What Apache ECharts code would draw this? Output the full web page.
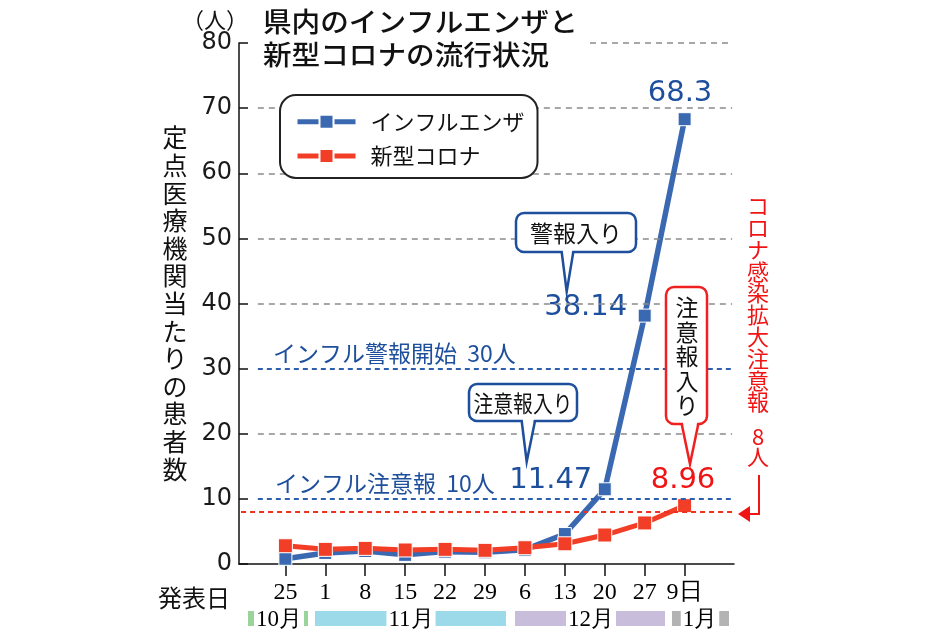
<!DOCTYPE html>
<html><head><meta charset="utf-8">
<script src="https://cdn.jsdelivr.net/npm/echarts@6/dist/echarts.min.js"></script>
<style>html,body{margin:0;padding:0;background:#fff}#c{width:934px;height:638px}</style>
</head><body><div id="c"></div>
<script>
// ---- data ----
const dateLabels = ['25','1','8','15','22','29','6','13','20','27','9日'];
const fluValues = [0.8, 1.7, 2.0, 1.4, 1.9, 1.8, 2.2, 4.6, 11.47, 38.14, 68.3];
const covidValues = [2.8, 2.25, 2.4, 2.15, 2.25, 2.1, 2.5, 3.1, 4.45, 6.3, 8.96];
const seriesNames = ['インフルエンザ', '新型コロナ'];
const gridLevels = [20, 40, 50, 60, 70, 80];
const fluThresholds = [10, 30];
const covidThreshold = 8;
const monthNames = ['10月', '11月', '12月', '1月'];
const yAxisName = '定点医療機関当たりの患者数';

// ---- styling ----
const JP = "'Noto Sans CJK JP', sans-serif";
const BLUE = '#3a69b1', RED = '#f23e26', BLUE_TXT = '#1e4f9c', RED_TXT = '#f01414';
const fluLabelOffsets = {8: [-54, -9], 9: [-59, -8.6], 10: [-4.6, -26]};
const covidLabelOffsets = {10: [-1.6, -25.6]};

function buildData(values, offsets, color) {
  return values.map((v, i) => {
    const item = {value: [i, v]};
    if (offsets[i]) {
      item.label = {show: true, position: 'inside', offset: offsets[i], formatter: String(v),
        fontFamily: 'DejaVu Sans', fontSize: 29, color: color, backgroundColor: '#fff', padding: [0, 1]};
    }
    return item;
  });
}

const xLeft = -0.69, xRight = 11.19;
const markData = [];
gridLevels.forEach(l => markData.push([{coord: [l === 80 ? 7.63 : xLeft, l], lineStyle: {color: '#8a8a8a', width: 1.5, type: [6, 5]}}, {coord: [xRight, l]}]));
fluThresholds.forEach(l => markData.push([{coord: [xLeft, l], lineStyle: {color: '#2d5fae', width: 2, type: [5, 4]}}, {coord: [xRight, l]}]));
markData.push([{coord: [-1.11, covidThreshold], lineStyle: {color: '#f0301e', width: 2, type: [5, 4]}}, {coord: [xRight, covidThreshold]}]);

function callout(x1, y1, x2, y2, tl, tr, tip, color, textEl) {
  return {type: 'group', children: [
    {type: 'rect', shape: {x: x1, y: y1, width: x2 - x1, height: y2 - y1, r: 8}, style: {fill: '#fff', stroke: color, lineWidth: 2.5}, z: 20},
    {type: 'polygon', shape: {points: [[tl + 1, y2 - 2.5], [tr - 1, y2 - 2.5], tip]}, style: {fill: '#fff'}, z: 21},
    {type: 'polyline', shape: {points: [[tl, y2], tip, [tr, y2]]}, style: {stroke: color, lineWidth: 2.5, fill: null}, z: 22},
    Object.assign({type: 'text', z: 23}, textEl)
  ]};
}

const monthBands = [
  {x1: 248, x2: 308, tx: 279, color: '#9ad49a'},
  {x1: 315, x2: 506, tx: 411, color: '#9cd9e9'},
  {x1: 515, x2: 665, tx: 591, color: '#c9bddc'},
  {x1: 672, x2: 729, tx: 700, color: '#b3b3b3'}
];
const graphics = [];
monthBands.forEach((b, i) => {
  graphics.push({type: 'rect', shape: {x: b.x1, y: 611, width: b.x2 - b.x1, height: 15}, style: {fill: b.color}, z: 5});
  graphics.push({type: 'text', x: b.tx, y: 620, z: 6, style: {text: monthNames[i], align: 'center', verticalAlign: 'middle',
    fontFamily: "'Liberation Serif', serif", fontSize: 23, fill: '#000', backgroundColor: '#fff', padding: [0, 2]}});
});
graphics.push(
  {type: 'text', x: 263, y: 5, scaleX: 1.06, z: 10, style: {text: '県内のインフルエンザと\n新型コロナの流行状況', align: 'left', verticalAlign: 'top',
    fontFamily: JP, fontSize: 27, fontWeight: 500, lineHeight: 33, fill: '#111'}},
  {type: 'text', x: 215, y: 20, z: 10, style: {text: '（人）', align: 'center', verticalAlign: 'middle', fontFamily: JP, fontSize: 22, fill: '#111'}},
  {type: 'text', x: 194, y: 598, z: 10, style: {text: '発表日', align: 'center', verticalAlign: 'middle', fontFamily: JP, fontSize: 24, fill: '#111'}},
  {type: 'text', x: 273, y: 353, z: 10, style: {text: 'インフル警報開始  30人', align: 'left', verticalAlign: 'middle', fontFamily: JP, fontSize: 23, fill: BLUE_TXT}},
  {type: 'text', x: 275, y: 483, z: 10, style: {text: 'インフル注意報  10人', align: 'left', verticalAlign: 'middle', fontFamily: JP, fontSize: 23, fill: BLUE_TXT}},
  callout(469, 384, 577, 421, 521.7, 535, [526.7, 461.7], BLUE_TXT,
    {x: 523, y: 403, scaleX: 0.86, style: {text: '注意報入り', align: 'center', verticalAlign: 'middle', fontFamily: JP, fontSize: 23, fill: '#111'}}),
  callout(516, 213, 636, 252, 561.7, 573.3, [566.7, 291.7], BLUE_TXT,
    {x: 576, y: 233, style: {text: '警報入り', align: 'center', verticalAlign: 'middle', fontFamily: JP, fontSize: 23, fill: '#111'}}),
  callout(666, 287, 707, 424, 681.7, 698.3, [690, 464], '#f02020',
    {x: 687, y: 356.5, style: {text: '注\n意\n報\n入\nり', align: 'center', verticalAlign: 'middle', fontFamily: JP, fontSize: 23, lineHeight: 24.4, fill: '#111'}}),
  {type: 'text', x: 758, y: 304, z: 10, style: {text: 'コ\nロ\nナ\n感\n染\n拡\n大\n注\n意\n報', align: 'center', verticalAlign: 'middle', fontFamily: JP, fontSize: 22, lineHeight: 21.8, fill: RED_TXT}},
  {type: 'text', x: 758, y: 447, z: 10, style: {text: '8\n人', align: 'center', verticalAlign: 'middle', fontFamily: JP, fontSize: 22, lineHeight: 20, fill: RED_TXT}},
  {type: 'polyline', z: 10, shape: {points: [[759, 475], [759, 514], [748, 514]]}, style: {stroke: RED_TXT, lineWidth: 2, fill: null}},
  {type: 'polygon', z: 10, shape: {points: [[738, 514], [750, 506], [750, 522]]}, style: {fill: RED_TXT}}
);

const chart = echarts.init(document.getElementById('c'), null, {renderer: 'canvas'});
chart.setOption({
  animation: false,
  backgroundColor: '#fff',
  grid: {left: 239, right: 200, top: 43, bottom: 74, containLabel: false},
  legend: {
    data: seriesNames, orient: 'vertical', left: 280, top: 95,
    itemWidth: 58, itemHeight: 17.5, itemGap: 10.3,
    padding: [14.7, 13, 10, 15],
    backgroundColor: '#fff', borderColor: '#222', borderWidth: 2, borderRadius: 16,
    textStyle: {fontFamily: JP, fontSize: 22, color: '#111', lineHeight: 24, padding: [0, 0, 0, 10]},
    lineStyle: {width: 5},
    itemStyle: {borderColor: '#fff', borderWidth: 2},
    selectedMode: false, z: 15
  },
  xAxis: {
    type: 'value', min: -1.162, max: 11.237,
    axisLine: {show: true, onZero: false, lineStyle: {color: '#111', width: 1.5}},
    axisTick: {show: true, length: 12, customValues: dateLabels.map((d, i) => i), lineStyle: {color: '#111', width: 1.5}},
    axisLabel: {customValues: dateLabels.map((d, i) => i), formatter: v => dateLabels[Math.round(v)],
      fontFamily: "'Liberation Serif', serif", fontSize: 24, color: '#000', margin: 17},
    splitLine: {show: false}
  },
  yAxis: {
    type: 'value', min: 0, max: 80, interval: 10,
    axisLine: {show: true, onZero: false, lineStyle: {color: '#111', width: 1.5}},
    axisTick: {show: true, inside: true, length: 9, lineStyle: {color: '#111', width: 1.5}},
    axisLabel: {fontFamily: 'DejaVu Sans', fontSize: 24, color: '#1a1a1a', margin: 7},
    splitLine: {show: false},
    name: yAxisName.split('').join('\n'), nameLocation: 'middle', nameRotate: 0, nameGap: 64,
    nameTextStyle: {fontFamily: JP, fontSize: 25, lineHeight: 27.6, color: '#111', align: 'center', verticalAlign: 'middle', padding: [0, 0, 16, 0]}
  },
  graphic: graphics,
  series: [
    {type: 'line', name: 'guides', data: [], z: 1, silent: true,
      markLine: {symbol: ['none', 'none'], silent: true, label: {show: false}, data: markData}},
    {type: 'line', name: seriesNames[0], data: buildData(fluValues, fluLabelOffsets, BLUE_TXT), z: 3,
      symbol: 'rect', symbolSize: 13, color: BLUE,
      lineStyle: {color: BLUE, width: 5.5}, itemStyle: {color: BLUE, borderColor: '#fff', borderWidth: 1}},
    {type: 'line', name: seriesNames[1], data: buildData(covidValues, covidLabelOffsets, RED_TXT), z: 4,
      symbol: 'rect', symbolSize: 14, color: RED,
      lineStyle: {color: RED, width: 5}, itemStyle: {color: RED, borderColor: '#fff', borderWidth: 1}}
  ]
});
</script></body></html>
